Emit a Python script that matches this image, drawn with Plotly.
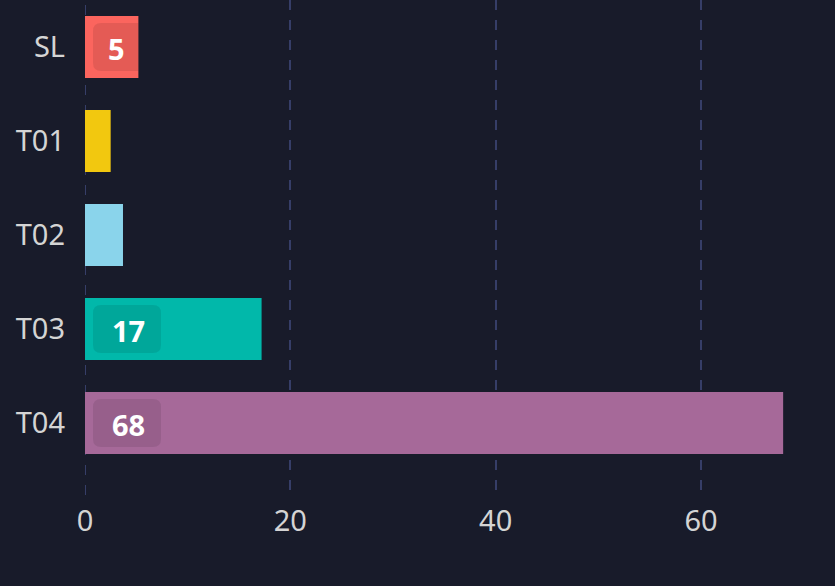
import plotly.graph_objects as go

categories = ["SL", "T01", "T02", "T03", "T04"]
values = [5.2, 2.5, 3.7, 17.2, 68]
colors = ["#fb655e", "#f2c80f", "#8ad4eb", "#01b8aa", "#a66999"]
x_ticks = [0, 20, 40, 60]
label_min = 5

W, H = 835, 586
ML, MR, MT, MB = 85, 0, 0, 91
X_MAX = 73.05
px_per_unit = (W - ML - MR) / X_MAX

fig = go.Figure()
fig.add_trace(go.Bar(
    y=categories, x=values, orientation="h",
    marker=dict(color=colors, line=dict(width=0)),
    width=0.66, hoverinfo="skip",
))

grid = "#363e68"
shapes = [dict(type="line", xref="x", yref="paper", x0=0, x1=0, y0=0, y1=1,
               line=dict(color=grid, width=2, dash="10px,10px"), layer="below")]
annotations = []
for cat, v in zip(categories, values):
    if v < label_min:
        continue
    x0, y0, y1 = 8, -24, 24
    x1 = min(8 + 68, v * px_per_unit)
    r = 8
    rr = r if x1 == 76 else 0
    path = (f"M{x0+r},{y0} L{x1-rr},{y0} Q{x1},{y0} {x1},{y0+rr} "
            f"L{x1},{y1-rr} Q{x1},{y1} {x1-rr},{y1} L{x0+r},{y1} "
            f"Q{x0},{y1} {x0},{y1-r} L{x0},{y0+r} Q{x0},{y0} {x0+r},{y0} Z")
    shapes.append(dict(
        type="path", xref="x", yref="y", xsizemode="pixel", ysizemode="pixel",
        xanchor=0, yanchor=cat, path=path,
        fillcolor="rgba(0,0,0,0.09)", line=dict(width=0), layer="above",
    ))
    annotations.append(dict(
        x=0, y=cat, xref="x", yref="y", text=f"<b>{round(v)}</b>",
        showarrow=False, xanchor="center", xshift=(x0 + x1) / 2 + 1, yshift=-1,
        font=dict(family="Noto Sans", size=29, color="#ffffff"),
    ))

fig.update_layout(
    width=W, height=H,
    paper_bgcolor="#181b2a", plot_bgcolor="#181b2a",
    margin=dict(l=ML, r=MR, t=MT, b=MB),
    showlegend=False,
    shapes=shapes, annotations=annotations,
    font=dict(family="Noto Sans", color="#d4d4d4"),
    xaxis=dict(
        range=[0, X_MAX], tickvals=x_ticks, ticktext=[str(t) for t in x_ticks],
        showgrid=True, gridcolor=grid, gridwidth=1.5, griddash="10px,10px",
        zeroline=False, showline=False, ticks="",
        tickfont=dict(size=29, color="#d4d4d4"),
        ticklabelstandoff=6,
    ),
    yaxis=dict(
        type="category", categoryorder="array", categoryarray=categories,
        range=[4.766, -0.5], showgrid=False, zeroline=False, showline=False,
        ticks="", tickfont=dict(size=29, color="#d4d4d4"),
        ticklabelstandoff=19,
    ),
)

fig.write_html("out.html", config={"displayModeBar": False},
               post_script="document.body.style.margin='0px';")
